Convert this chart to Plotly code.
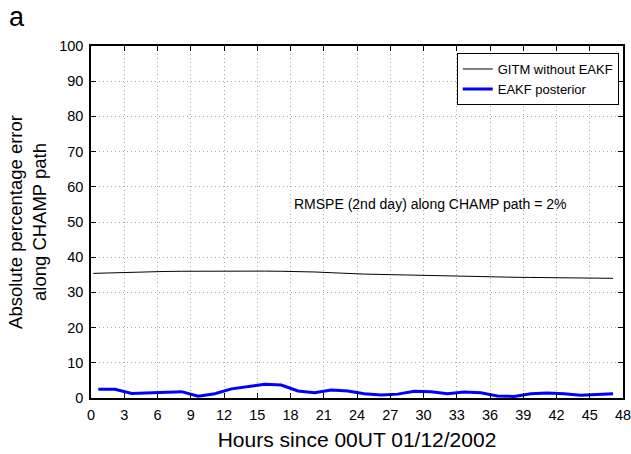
import plotly.graph_objects as go

# Data (hours since 00UT 01/12/2002)
hours_eakf = [0.66, 2.17, 3.67, 5.17, 6.67, 8.17, 9.67, 11.17, 12.67, 14.17,
              15.67, 17.17, 18.67, 20.17, 21.67, 23.17, 24.67, 26.17, 27.67, 29.17,
              30.67, 32.17, 33.67, 35.17, 36.67, 38.17, 39.67, 41.17, 42.67, 44.17,
              45.67, 47.1]
eakf_posterior = [2.5, 2.5, 1.3, 1.5, 1.6, 1.8, 0.5, 1.2, 2.6, 3.2,
                  3.9, 3.7, 2.0, 1.5, 2.3, 2.0, 1.2, 0.85, 1.1, 1.9,
                  1.8, 1.2, 1.7, 1.5, 0.6, 0.45, 1.2, 1.4, 1.2, 0.75,
                  0.9, 1.2]

hours_gitm = [0.2, 2.17, 3.67, 5.17, 6.67, 8.17, 9.67, 11.17, 12.67, 14.17,
              15.67, 17.17, 18.67, 20.17, 21.67, 23.17, 24.67, 26.17, 27.67, 29.17,
              30.67, 32.17, 33.67, 35.17, 36.67, 38.17, 39.67, 41.17, 42.67, 44.17,
              45.67, 47.1]
gitm_no_eakf = [35.4, 35.6, 35.8, 35.9, 35.95, 36.0, 36.05, 36.1, 36.1, 36.1,
                36.05, 36.0, 35.95, 35.8, 35.6, 35.3, 35.2, 35.1, 35.0, 34.85,
                34.7, 34.5, 34.4, 34.35, 34.3, 34.3, 34.25, 34.2, 34.15, 34.1,
                34.0, 34.0]

x_ticks = list(range(0, 49, 3))
y_ticks = list(range(0, 101, 10))

FONT = "Liberation Sans, Arial, sans-serif"

fig = go.Figure()
fig.add_trace(go.Scatter(x=hours_gitm, y=gitm_no_eakf, mode="lines",
                         name="GITM without EAKF",
                         line=dict(color="black", width=1)))
fig.add_trace(go.Scatter(x=hours_eakf, y=eakf_posterior, mode="lines",
                         name="EAKF posterior",
                         line=dict(color="#0000ff", width=3)))

axis_common = dict(
    showline=True, linecolor="black", linewidth=1.5, mirror="ticks",
    ticks="inside", ticklen=5, tickcolor="black", automargin=False,
    ticklabeloverflow="allow",
    showgrid=True, gridcolor="#a8a8a8", griddash="1px,3px", gridwidth=1,
    zeroline=False, tickfont=dict(family=FONT, size=14.5, color="black"),
)

fig.update_xaxes(range=[0, 48], tickvals=x_ticks, ticktext=[str(v) for v in x_ticks],
                 ticklabelstandoff=3,
                 title=dict(text="Hours since 00UT 01/12/2002",
                            font=dict(family=FONT, size=21, color="black"),
                            standoff=10),
                 **axis_common)
fig.update_yaxes(range=[0, 100], tickvals=y_ticks, ticktext=[str(v) for v in y_ticks],
                 ticklabelstandoff=3,
                 title=dict(text="Absolute percentage error<br>along CHAMP path",
                            font=dict(family=FONT, size=18.5, color="black"),
                            standoff=8),
                 **axis_common)

fig.add_annotation(x=18.1, y=55.1, xref="x", yref="y", xanchor="left", yanchor="middle",
                   text="RMSPE (2nd day) along CHAMP path = 2%", showarrow=False,
                   font=dict(family=FONT, size=14, color="black"))
fig.add_annotation(x=-0.158, y=1.13, xref="paper", yref="paper", xanchor="left", yanchor="top",
                   text="a", showarrow=False,
                   font=dict(family=FONT, size=27, color="black"))

fig.update_layout(
    width=631, height=454,
    margin=dict(l=91, r=8, t=46, b=56),
    paper_bgcolor="white", plot_bgcolor="white",
    font=dict(family=FONT, color="black"),
    legend=dict(x=0.992, y=0.98, xanchor="right", yanchor="top",
                bgcolor="white", bordercolor="black", borderwidth=1,
                font=dict(family=FONT, size=13, color="black"),
                tracegroupgap=0),
)

fig.write_html("out.html")
